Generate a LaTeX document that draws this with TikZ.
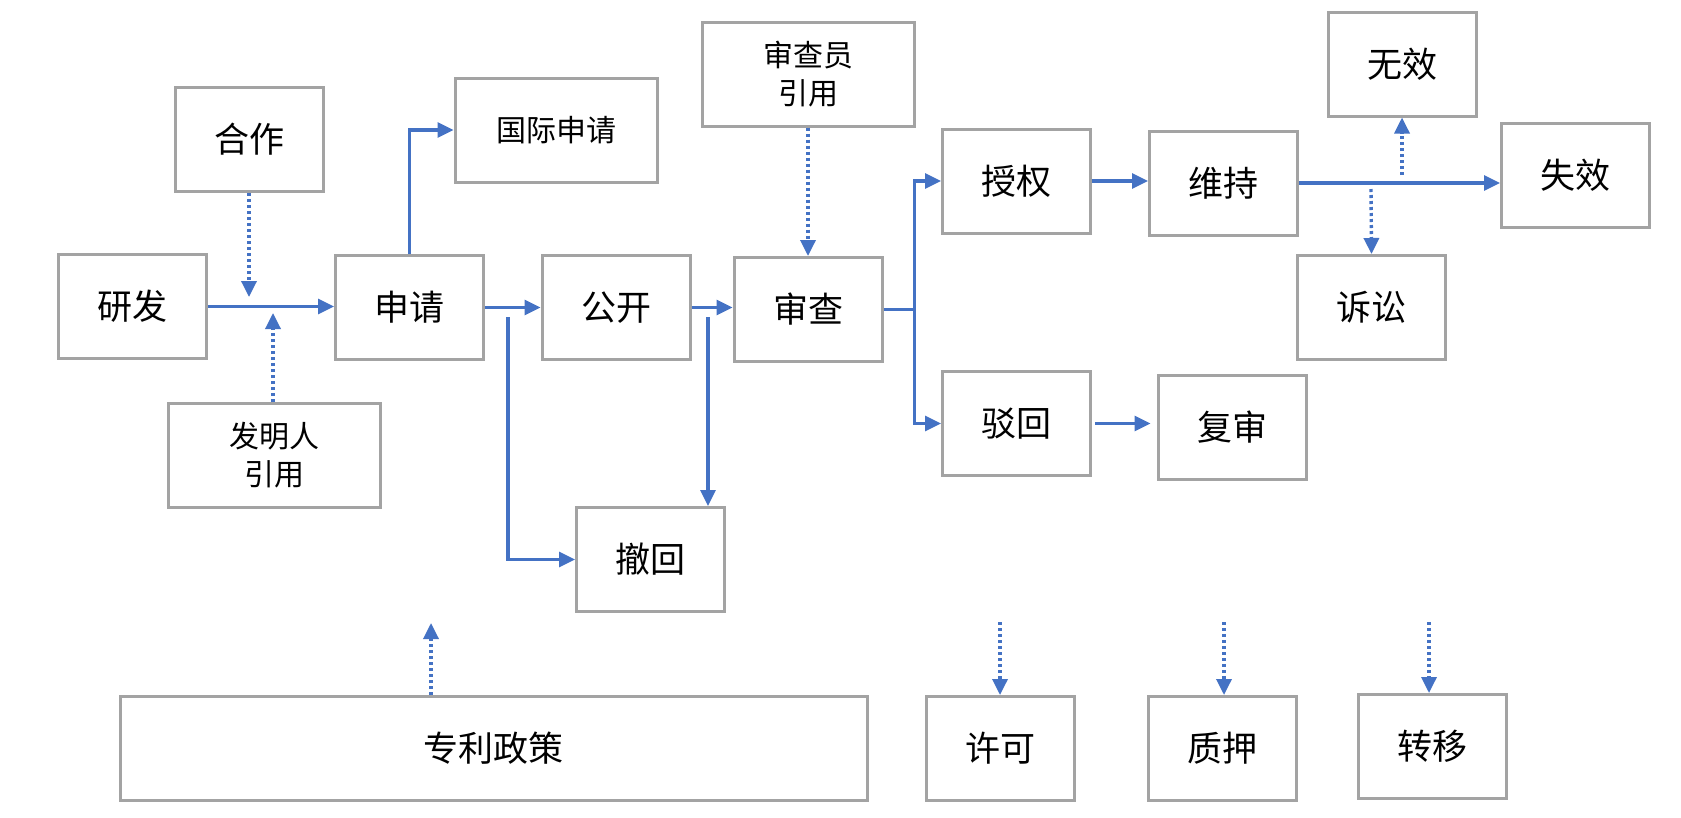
\documentclass[tikz,border=0pt]{standalone}
\usepackage{fontspec}
\setmainfont{Noto Sans CJK SC}
\usetikzlibrary{arrows.meta}
\definecolor{arrblue}{HTML}{4472C4}
\definecolor{boxgray}{HTML}{A3A3A3}
\tikzset{
  box/.style={draw=boxgray, line width=3pt, fill=white, inner sep=0pt,
    minimum width=148pt, minimum height=104pt, align=center,
    font=\fontsize{35}{40}\selectfont},
  smallbox/.style={box, font=\fontsize{30}{38}\selectfont},
  conn/.style={draw=arrblue, line width=3.2pt},
  arr/.style={conn, -{Triangle[length=16pt,width=15pt]}},
  dotarr/.style={arr, line width=3.4pt, dash pattern=on 3pt off 3pt},
}
\begin{document}
\begin{tikzpicture}[x=1pt,y=-1pt]
\useasboundingbox (0,0) rectangle (1681,817);
% nodes
\node[box] (hz) at (249,139.5) {合作};
\node[smallbox, minimum width=202pt] (gj) at (556,130) {国际申请};
\node[smallbox, minimum width=212pt] (scy) at (808,74) {审查员\\引用};
\node[box] (yf) at (132.5,306.5) {研发};
\node[box] (sq) at (409.5,307.5) {申请};
\node[box] (gk) at (616,307.5) {公开};
\node[box] (sc) at (808,309.5) {审查};
\node[box] (sqq) at (1016.5,181) {授权};
\node[box] (wc) at (1223.5,183) {维持};
\node[box] (wx) at (1402,64) {无效};
\node[box] (sx) at (1575.5,175) {失效};
\node[box] (ss) at (1371.5,307.5) {诉讼};
\node[box] (bh) at (1016.5,423.5) {驳回};
\node[box] (fs) at (1232,427.5) {复审};
\node[smallbox, minimum width=212pt] (fm) at (274,455.5) {发明人\\引用};
\node[box] (ch) at (650.5,559.5) {撤回};
\node[box, minimum width=747pt] (zl) at (493.5,748.5) {专利政策};
\node[box] (xk) at (1000,748.5) {许可};
\node[box] (zy) at (1222,748.5) {质押};
\node[box] (zy2) at (1432,746.5) {转移};
% coordinates
\coordinate (hzend) at (249,297);
\coordinate (fmend) at (273,313);
\coordinate (b1) at (508,317);
\coordinate (b2) at (708,317);
\coordinate (br) at ([xshift=31pt]sc.east);
\coordinate (wxs) at (1402,175);
\coordinate (sss) at (1371,189);
\coordinate (zlup) at (431,623);
\coordinate (xks) at (1000,622);
\coordinate (zys) at (1224,622);
\coordinate (zy2s) at (1429,622);
% connectors
\draw[arr] (yf.east) -- (yf.east -| sq.west);
\draw[dotarr] (hz.south) -- (hzend);
\draw[dotarr] (fm.north -| fmend) -- (fmend);
\draw[arr] (sq.north) |- (gj.west);
\draw[arr] (sq.east) -- (gk.west);
\draw[arr] (b1) |- (ch.west);
\draw[arr] (gk.east) -- (gk.east -| sc.west);
\draw[arr] (b2) -- (b2 |- ch.north);
\draw[dotarr] (scy.south) -- (sc.north);
\draw[conn] (sc.east) -- (br);
\draw[arr] (br) |- (sqq.west);
\draw[arr] (br) |- (bh.west);
\draw[arr] (sqq.east) -- (sqq.east -| wc.west);
\draw[arr] ([xshift=3pt]bh.east) -- ([xshift=-6pt]bh.east -| fs.west);
\draw[arr] (wc.east) -- (wc.east -| sx.west);
\draw[dotarr] (wxs) -- (wx.south);
\draw[dotarr] (sss) -- (ss.north);
\draw[dotarr] (zlup |- zl.north) -- (zlup);
\draw[dotarr] (xks) -- (xk.north);
\draw[dotarr] (zys) -- (zys |- zy.north);
\draw[dotarr] (zy2s) -- (zy2s |- zy2.north);
\end{tikzpicture}
\end{document}
